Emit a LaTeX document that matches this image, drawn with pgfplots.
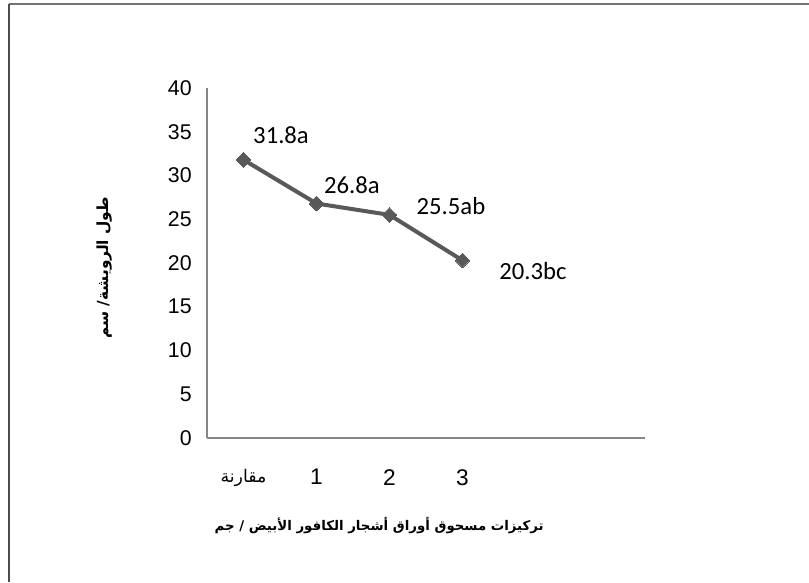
\documentclass[border=0pt]{standalone}
\usepackage{pgfplots}
\pgfplotsset{compat=1.18}
\usepackage{fontspec}
\setmainfont{Liberation Sans}
\newfontfamily\carlito{Carlito}
\newfontfamily\arabicfont[Script=Arabic]{DejaVu Sans}
\TeXXeTstate=1
\definecolor{axgray}{RGB}{134,134,134}
\definecolor{lngray}{RGB}{89,89,89}
\begin{document}
\begin{tikzpicture}[x=0.75pt,y=-0.75pt]
\useasboundingbox (0,0) rectangle (809,582);
\fill[white] (0,0) rectangle (809,582);
\draw[line width=1.8pt,color=black!55] (9,4) -- (809,4);
\draw[line width=1.8pt,color=black!70] (9,4) -- (9,582);
\begin{axis}[
  at={(155.25pt,-328.5pt)}, anchor=south west,
  scale only axis, width=328.5pt, height=262.5pt,
  xmin=-0.5, xmax=5.5, ymin=0, ymax=40,
  axis x line*=bottom, axis y line*=left,
  axis line style={color=axgray, line width=0.9pt, -},
  xtick={0,1,2,3},
  xticklabels={{\arabicfont\fontsize{13}{15}\selectfont\beginR مقارنة\endR},1,2,3},
  ytick={0,5,...,40},
  major tick length=0pt,
  yticklabel style={font=\fontsize{16}{18}\selectfont, xshift=-8pt},
  xticklabel style={font=\fontsize{17}{19}\selectfont, yshift=-20pt},
  /pgf/number format/assume math mode=true,
  clip=false,
  xlabel={\arabicfont\bfseries\beginR تركيزات مسحوق أوراق أشجار الكافور الأبيض / جم\endR},
  xlabel style={font=\fontsize{10}{12}\selectfont, at={(axis description cs:0.393,-0.249)}, anchor=center},
  ylabel={\arabicfont\bfseries\beginR طول الرويشة/ سم\endR},
  ylabel style={font=\fontsize{11.5}{13}\selectfont, at={(axis description cs:-0.235,0.486)}, anchor=center, rotate=0},
]
\addplot[color=lngray, line width=3pt, mark=square*, mark size=3.9pt,
  mark options={rotate=45, fill=lngray, draw=lngray, line width=0pt}]
  coordinates {(0,31.8) (1,26.8) (2,25.5) (3,20.3)};
\node[font=\carlito\fontsize{18.5}{20}\selectfont, inner sep=0pt] at (axis cs:0.514,34.6) {31.8a};
\node[font=\carlito\fontsize{18.5}{20}\selectfont, inner sep=0pt] at (axis cs:1.486,28.9) {26.8a};
\node[font=\carlito\fontsize{18.5}{20}\selectfont, inner sep=0pt] at (axis cs:2.842,26.5) {25.5ab};
\node[font=\carlito\fontsize{18.5}{20}\selectfont, inner sep=0pt] at (axis cs:3.966,19.1) {20.3bc};
\end{axis}
\end{tikzpicture}
\end{document}
